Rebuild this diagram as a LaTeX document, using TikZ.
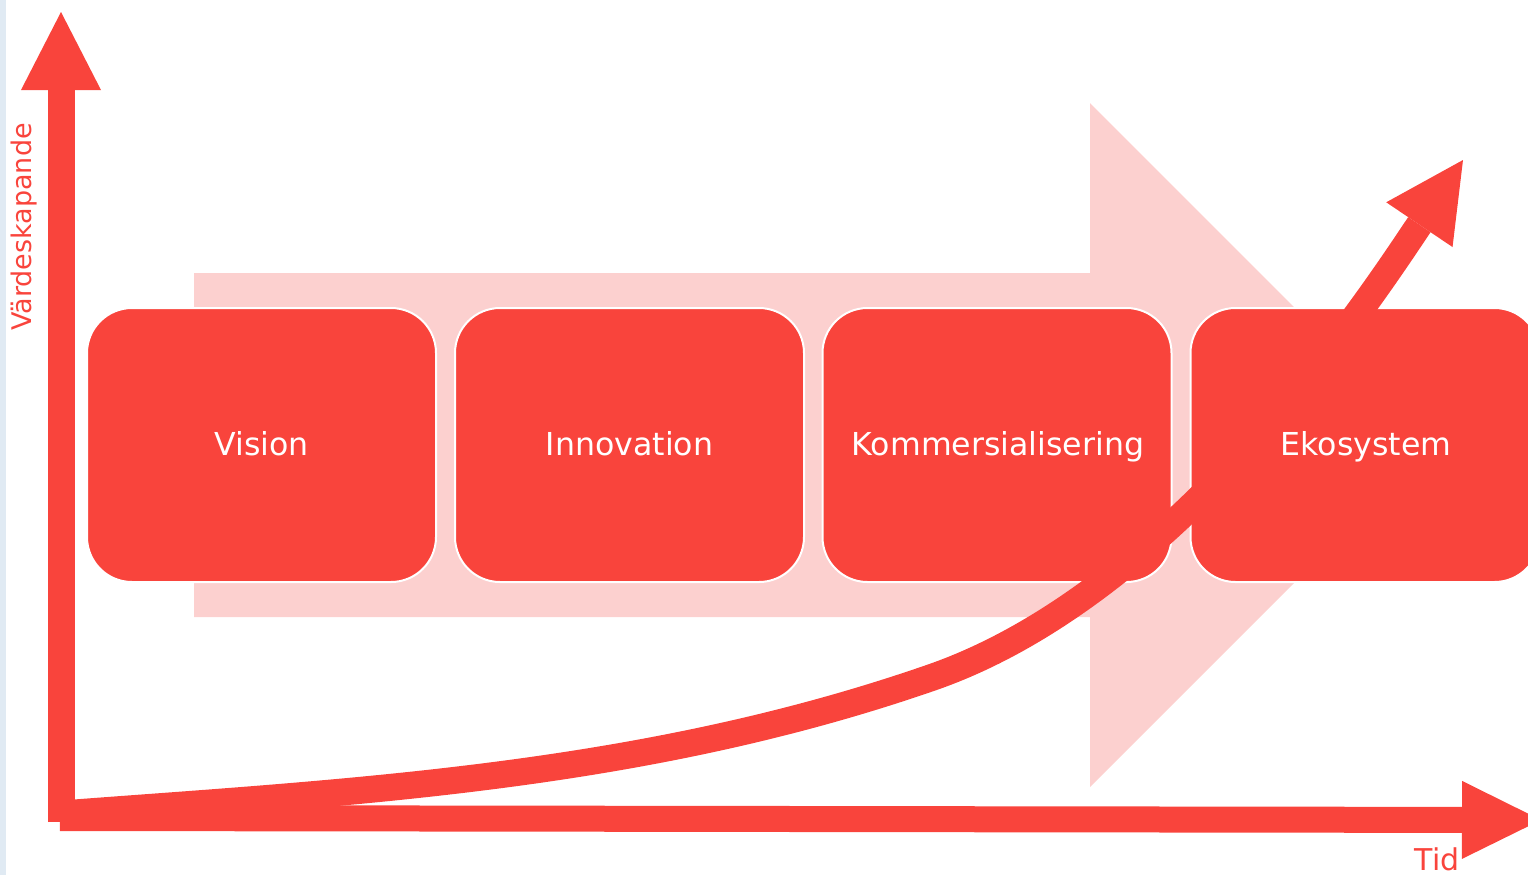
\documentclass[tikz,border=0pt]{standalone}
\usepackage{fontspec}
\setmainfont{DejaVu Sans}
\usetikzlibrary{arrows.meta}
\definecolor{axred}{RGB}{249,68,60}
\definecolor{pinkbg}{RGB}{252,208,207}
\definecolor{stripblue}{RGB}{224,234,243}
\begin{document}
\begin{tikzpicture}[x=0.5pt,y=-0.5pt,
  stage/.style={rectangle, rounded corners=22.5pt, fill=axred, draw=white,
    line width=1pt, minimum width=174.5pt, minimum height=137pt, inner sep=0pt,
    text=white},
  stagetext/.style={text=white, inner sep=0pt, anchor=base,
    font=\fontsize{15.8pt}{19pt}\selectfont},
  axisline/.style={draw=axred, line width=13.5pt},
  bigtip/.style={-{Triangle[length=39pt,width=40pt,line width=0pt]}},
  axlabel/.style={text=axred, inner sep=0pt}]
\useasboundingbox (0,0) rectangle (1528,875);
\clip (0,0) rectangle (1528,875);
\fill[stripblue] (0,0) rectangle (6,875);
% big background arrow
\fill[pinkbg] (194,273) -- (1090,273) -- (1090,103) -- (1432,445) -- (1090,787)
  -- (1090,617) -- (194,617) -- cycle;
% stages
\node[stage] (vision) at (261.5,445) {};
\node[stage] (innovation) at (629.5,445) {};
\node[stage] (komm) at (997,445) {};
\node[stage] (eko) at (1365,445) {};
\node[stagetext] (tvision) at (261.5,455) {Vision};
\node[stagetext] (tinnovation) at (629.5,455) {Innovation};
\node[stagetext] (tkomm) at (998,455) {Kommersialisering};
\node[stagetext] (teko) at (1366,455) {Ekosystem};
% axes
\coordinate (O) at (61,822);
\coordinate (ytop) at (61,12);
\coordinate (xs) at (60,818);
\coordinate (xe) at (1541,820);
\draw[axisline, bigtip] (O) -- (ytop);
\draw[axisline, line width=13pt, -{Triangle[length=39.5pt,width=39pt,line width=0pt]}] (xs) -- (xe);
% growth curve
\coordinate (c0) at (61,814);
\coordinate (cm) at (933,677);
\coordinate (ctip) at (1463,160);
\draw[axisline, bigtip] (c0) .. controls (351,792) and (643,778) .. (cm)
  .. controls (1183,589.5) and (1379,284.5) .. (ctip);
% labels
\node[axlabel, rotate=90, font=\fontsize{13.5pt}{16pt}\selectfont] (vlabel) at (24,227) {Värdeskapande};
\node[axlabel, anchor=base, font=\fontsize{15pt}{18pt}\selectfont] (tlabel) at (1437,870) {Tid};
\end{tikzpicture}
\end{document}
